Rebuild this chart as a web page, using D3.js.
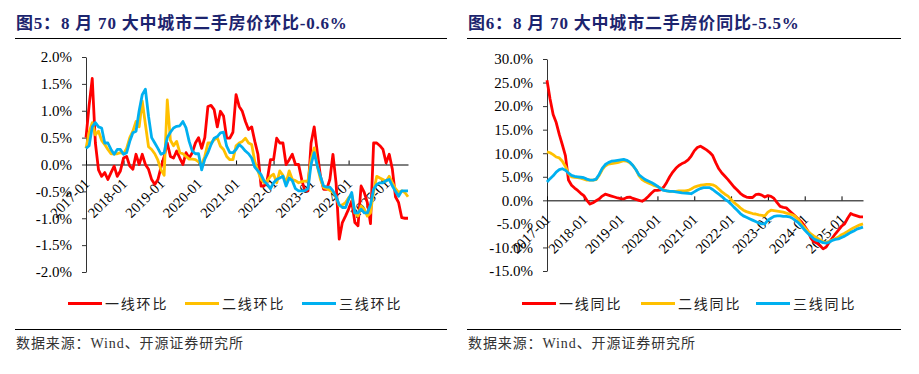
<!DOCTYPE html>
<html>
<head>
<meta charset="utf-8">
<script src="https://cdn.jsdelivr.net/npm/d3@7"></script>
<style>
  body { margin: 0; background: #fff; }
  svg text { font-family: "Liberation Serif", "Noto Sans CJK SC", serif; }
</style>
</head>
<body>
<script>
// months 2017-01 .. 2025-08
const months = d3.timeMonth.range(new Date(2017, 0, 1), new Date(2025, 8, 1)).map(d3.timeFormat('%Y-%m'));
const yearTicks = ['2017-01', '2018-01', '2019-01', '2020-01', '2021-01', '2022-01', '2023-01', '2024-01', '2025-01'];

// 环比 (%)
const tier1MoM = [0.5, 1.1, 1.6, 0.4, -0.1, -0.22, -0.15, -0.28, -0.15, -0.03,
  -0.22, -0.12, 0.12, 0.15, -0.03, -0.09, 0.19, 0.0, 0.19, 0.0,
  -0.09, -0.28, -0.37, -0.28, -0.05, 0.15, 0.4, 0.15, 0.12, 0.25,
  0.12, 0.0, 0.22, 0.12, 0.22, 0.4, 0.5, 0.3, 0.5, 1.08,
  1.1, 1.02, 0.7, 0.99, 0.9, 0.49, 0.49, 0.6, 1.3, 1.08,
  0.99, 0.8, 0.65, 0.7, 0.43, 0.19, -0.4, -0.4, -0.28, 0.09,
  0.09, 0.49, 0.4, 0.4, 0.0, 0.09, 0.19, 0.0, 0.0, -0.28,
  -0.49, -0.49, 0.4, 0.7, 0.22, -0.22, -0.46, -0.46, -0.28, 0.19,
  -0.35, -1.39, -1.08, -0.96, -0.83, -0.68, -1.08, -1.14, -0.4, -0.52,
  -0.71, -1.1, 0.4, 0.4, 0.35, 0.28, 0.03, 0.19, -0.09, -0.6,
  -0.71, -0.99, -1.0, -1.0];
const tier2MoM = [0.3, 0.6, 0.78, 0.55, 0.62, 0.45, 0.37, 0.28, 0.2, 0.2,
  0.2, 0.22, 0.2, 0.3, 0.5, 0.62, 0.8, 0.7, 1.18, 0.75,
  0.33, 0.28, 0.2, 0.08, -0.1, -0.2, 1.2, 0.45, 0.35, 0.43,
  0.22, 0.2, 0.15, 0.1, 0.1, 0.09, 0.05, 0.0, 0.15, 0.4,
  0.4, 0.46, 0.5, 0.34, 0.28, 0.15, 0.09, 0.09, 0.35, 0.4,
  0.43, 0.49, 0.4, 0.37, 0.05, -0.12, -0.28, -0.34, -0.3, -0.22,
  -0.18, -0.34, -0.12, -0.2, -0.34, -0.12, -0.28, -0.3, -0.34, -0.32,
  -0.31, -0.31, 0.1, 0.31, -0.03, -0.28, -0.43, -0.45, -0.48, -0.52,
  -0.6, -0.77, -0.75, -0.71, -0.62, -0.56, -0.9, -0.96, -0.77, -0.83,
  -0.96, -0.9, -0.5, -0.22, -0.25, -0.28, -0.31, -0.22, -0.34, -0.45,
  -0.52, -0.49, -0.52, -0.6];
const tier3MoM = [0.3, 0.35, 0.7, 0.78, 0.7, 0.68, 0.4, 0.4, 0.28, 0.19,
  0.28, 0.28, 0.19, 0.22, 0.43, 0.59, 0.62, 1.0, 1.3, 1.4,
  0.9, 0.5, 0.4, 0.3, 0.19, 0.22, 0.5, 0.6, 0.68, 0.71,
  0.72, 0.8, 0.68, 0.43, 0.25, 0.2, 0.2, -0.1, 0.1, 0.22,
  0.37, 0.49, 0.52, 0.59, 0.6, 0.34, 0.22, 0.22, 0.28, 0.37,
  0.32, 0.25, 0.2, 0.12, -0.05, -0.12, -0.19, -0.31, -0.37, -0.45,
  -0.34, -0.28, -0.25, -0.22, -0.4, -0.25, -0.3, -0.45, -0.49, -0.49,
  -0.49, -0.45, 0.0, 0.22, -0.03, -0.22, -0.4, -0.42, -0.42, -0.49,
  -0.6, -0.75, -0.8, -0.8, -0.65, -0.52, -0.9, -0.9, -0.83, -0.9,
  -0.9, -0.75, -0.46, -0.37, -0.34, -0.34, -0.3, -0.28, -0.4, -0.5,
  -0.59, -0.49, -0.49, -0.49];

// 同比 (%)
const tier1YoY = [25.5, 21.5, 18.2, 16.5, 14, 11.8, 9.5, 4.3, 3.2, 2.6,
  2.1, 1.5, 1.0, 0.0, -0.8, -0.5, -0.1, 0.3, 0.9, 1.3,
  1.1, 0.9, 0.7, 0.5, 0.35, 0.3, 0.6, 0.7, 0.4, 0.2,
  0.0, -0.2, 0.2, 0.8, 1.5, 2.1, 2.1, 2.2, 2.8, 3.8,
  5.0, 6.0, 6.8, 7.4, 7.8, 8.1, 8.6, 9.4, 10.5, 11.2,
  11.5, 11.1, 10.7, 10.2, 9.5, 8.0, 6.7, 5.8, 5.1, 4.4,
  3.6, 2.8, 2.2, 1.5, 1.0, 0.7, 0.6, 0.6, 1.2, 1.3,
  1.1, 0.7, 1.0, 0.85, 0.4, -0.5, -1.3, -1.5, -1.6, -2.2,
  -2.8, -3.4, -4.0, -4.6, -5.5, -6.5, -8.0, -8.8, -9.1, -9.6,
  -10.3, -9.9, -8.9, -8.0, -7.1, -6.3, -5.5, -5.0, -3.8, -2.8,
  -3.1, -3.3, -3.5, -3.5];
const tier2YoY = [10.3, 10.1, 9.7, 9.2, 9.0, 8.3, 7.2, 5.7, 5.0, 4.9,
  4.8, 4.7, 4.5, 4.3, 4.3, 4.3, 4.4, 5.3, 6.5, 7.3,
  7.7, 7.8, 7.9, 8.0, 8.2, 8.4, 8.3, 8.0, 7.4, 6.5,
  5.2, 4.4, 4.0, 3.7, 3.4, 3.1, 2.9, 2.6, 2.2, 2.0,
  1.9, 1.9, 1.9, 2.0, 2.0, 2.0, 2.1, 2.4, 2.8, 3.0,
  3.2, 3.3, 3.4, 3.4, 3.3, 3.0, 2.4, 1.8, 1.3, 0.9,
  0.2, -0.5, -1.0, -1.6, -2.1, -2.4, -2.6, -2.8, -2.9, -3.1,
  -3.2, -3.3, -2.5, -2.1, -2.2, -2.3, -2.4, -2.5, -2.7, -2.9,
  -3.1, -3.4, -4.1, -5.1, -5.8, -6.5, -7.1, -7.6, -8.0, -8.4,
  -8.8, -8.9, -8.7, -8.4, -8.1, -7.8, -7.3, -7.0, -6.6, -6.2,
  -5.8, -5.5, -5.2, -5.0];
const tier3YoY = [3.9, 4.6, 5.2, 6.0, 6.5, 6.7, 6.4, 5.8, 5.3, 5.1,
  5.0, 4.9, 4.8, 4.5, 4.3, 4.3, 4.5, 5.5, 6.8, 7.6,
  8.0, 8.3, 8.4, 8.5, 8.6, 8.7, 8.5, 8.1, 7.4, 6.5,
  5.4, 4.9, 4.4, 4.1, 3.8, 3.4, 3.0, 2.5, 2.1, 2.0,
  1.9, 1.9, 1.8, 1.7, 1.6, 1.55, 1.5, 1.4, 1.8, 2.2,
  2.5, 2.7, 2.7, 2.7, 2.3, 1.8, 1.3, 0.8, 0.2, -0.2,
  -0.8, -1.5, -2.1, -2.8, -3.3, -3.6, -3.9, -4.2, -4.5, -4.8,
  -5.0, -5.0, -4.2, -3.8, -3.4, -3.3, -3.3, -3.4, -3.4, -3.5,
  -3.8, -4.3, -4.8, -5.5, -6.3, -7.0, -7.6, -8.2, -8.5, -8.7,
  -9.0, -9.1, -8.9, -8.5, -8.3, -8.2, -7.9, -7.6, -7.2, -6.8,
  -6.5, -6.1, -5.9, -5.7];

const momTicks = [2.0, 1.5, 1.0, 0.5, 0.0, -0.5, -1.0, -1.5, -2.0];
const yoyTicks = [30, 25, 20, 15, 10, 5, 0, -5, -10, -15];

const colors = ['#ff0000', '#ffc000', '#00b0f0'];

const svg = d3.select('body').append('svg')
    .attr('width', 919)
    .attr('height', 374);

function drawPanel(p) {
    let g = svg.append('g');

    // title + rule
    g.append('text')
        .attr('x', p.left + 1).attr('y', 29)
        .attr('font-size', 17).attr('font-weight', 'bold')
        .attr('letter-spacing', 0.8)
        .attr('fill', '#1c246e')
        .text(p.title);
    g.append('line')
        .attr('x1', p.left).attr('x2', p.right)
        .attr('y1', 38.5).attr('y2', 38.5)
        .attr('stroke', '#000').attr('stroke-width', 1.2);

    let x = d3.scalePoint().domain(months).range(p.xRange);
    let y = d3.scaleLinear().domain(p.yDomain).range(p.yRange);

    // y axis
    let yAxis = g.append('g')
        .attr('transform', `translate(${p.xRange[0]},0)`)
        .call(d3.axisLeft(y).tickValues(p.yTicks).tickSize(4).tickSizeOuter(0).tickPadding(10)
            .tickFormat(d => d.toFixed(1) + '%'));
    yAxis.selectAll('text').attr('font-size', 15).attr('fill', '#000')
        .style('font-family', '"Liberation Serif", serif');
    yAxis.selectAll('line, path').attr('stroke', '#333');

    // x axis on the zero line
    let xAxis = g.append('g')
        .attr('transform', `translate(0,${y(0)})`)
        .call(d3.axisBottom(x).tickValues(yearTicks).tickSize(-4).tickSizeOuter(0));
    xAxis.selectAll('line, path').attr('stroke', '#000');
    xAxis.selectAll('text')
        .attr('x', 0).attr('y', 0).attr('dy', null)
        .attr('text-anchor', 'end')
        .attr('transform', 'translate(4,20) rotate(-45)')
        .attr('font-size', 14.5).attr('fill', '#000')
        .style('font-family', '"Liberation Serif", serif');

    // series
    let line = d3.line()
        .x((d, i) => x(months[i]))
        .y(d => y(d));
    p.series.forEach((s, k) => {
        g.append('path')
            .datum(s)
            .attr('d', line)
            .attr('fill', 'none')
            .attr('stroke', colors[k])
            .attr('stroke-width', 2.8)
            .attr('stroke-linejoin', 'round');
    });

    // legend
    p.names.forEach((name, k) => {
        let lx = p.legendX[k];
        g.append('line')
            .attr('x1', lx).attr('x2', lx + 34)
            .attr('y1', 303.5).attr('y2', 303.5)
            .attr('stroke', colors[k]).attr('stroke-width', 2.8);
        g.append('text')
            .attr('x', lx + 37).attr('y', 308.5)
            .attr('font-size', 14).attr('fill', '#222')
            .attr('letter-spacing', 1.8)
            .text(name);
    });

    // source
    g.append('line')
        .attr('x1', p.left).attr('x2', p.right)
        .attr('y1', 329.5).attr('y2', 329.5)
        .attr('stroke', '#000').attr('stroke-width', 1.2);
    g.append('text')
        .attr('x', p.left + 1).attr('y', 348)
        .attr('font-size', 14).attr('fill', '#333')
        .attr('letter-spacing', 0.9)
        .text('数据来源：Wind、开源证券研究所');
}

drawPanel({
    title: '图5：8 月 70 大中城市二手房价环比-0.6%',
    left: 15, right: 447,
    xRange: [86, 408],
    yDomain: [-2, 2], yRange: [272, 57], yTicks: momTicks,
    series: [tier1MoM, tier2MoM, tier3MoM],
    names: ['一线环比', '二线环比', '三线环比'],
    legendX: [68, 185, 302]
});

drawPanel({
    title: '图6：8 月 70 大中城市二手房价同比-5.5%',
    left: 467, right: 901,
    xRange: [547, 863],
    yDomain: [-15, 30], yRange: [271, 59], yTicks: yoyTicks,
    series: [tier1YoY, tier2YoY, tier3YoY],
    names: ['一线同比', '二线同比', '三线同比'],
    legendX: [522, 641, 756]
});
</script>
</body>
</html>
